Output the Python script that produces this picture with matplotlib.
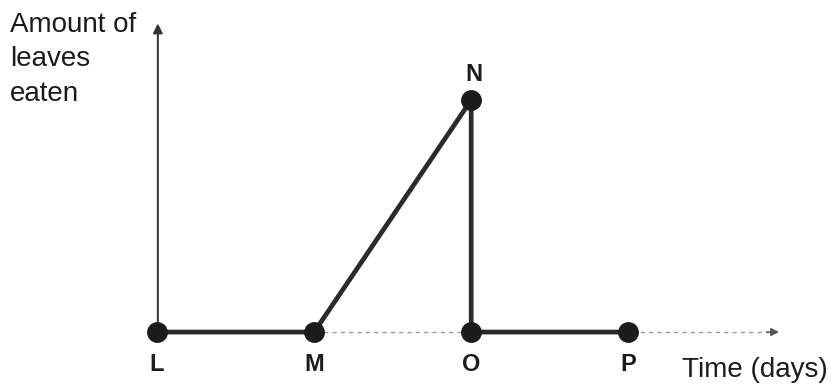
import matplotlib

matplotlib.use("Agg")
import matplotlib.pyplot as plt

# points of the graph: day index and relative amount of leaves eaten
labels = ["L", "M", "N", "O", "P"]
days = [0, 1, 2, 2, 3]
leaves = [0, 0, 1, 0, 0]

y_title = "Amount of\nleaves\neaten"
x_title = "Time (days)"

plt.rcParams["font.family"] = ["Liberation Sans", "DejaVu Sans"]
ink = "#1c1c1c"

fig = plt.figure(figsize=(8.34, 3.88), dpi=100)
ax = fig.add_axes([0, 0, 1, 1])
ax.set_xlim(-1.0, 4.31)
ax.set_ylim(-0.241, 1.431)
ax.axis("off")

# axes drawn by hand: solid y arrow, faint dotted x arrow
ax.annotate("", xy=(0.005, 1.33), xytext=(0.005, 0),
            arrowprops=dict(arrowstyle="-|>", color="#333333", lw=1.4,
                            mutation_scale=14, shrinkA=0, shrinkB=0))
ax.plot([0, 3.9], [0, 0], color="#9a9a9a", lw=1.0, ls=(0, (3, 3)), zorder=1)
ax.annotate("", xy=(3.96, 0), xytext=(3.88, 0),
            arrowprops=dict(arrowstyle="-|>", color="#555555", lw=1.0,
                            mutation_scale=12, shrinkA=0, shrinkB=0))

ax.plot(days, leaves, color="#2b2b2b", lw=3.4, solid_joinstyle="round",
        solid_capstyle="round", zorder=2)
ax.plot(days, leaves, "o", color=ink, ms=14, zorder=3)

for lab, d, v in zip(labels, days, leaves):
    if v > 0:
        ax.text(d + 0.02, v + 0.108, lab, ha="center", va="center",
                fontsize=17, fontweight="bold", color=ink)
    else:
        ax.text(d, v - 0.14, lab, ha="center", va="center",
                fontsize=17, fontweight="bold", color=ink)

ax.text(3.34, -0.165, x_title, ha="left", va="center", fontsize=20, color=ink)
fig.text(10 / 834, 1 - 12 / 388, y_title, ha="left", va="top", fontsize=20,
         color=ink, linespacing=1.42)

fig.savefig("out.png", dpi=100)
